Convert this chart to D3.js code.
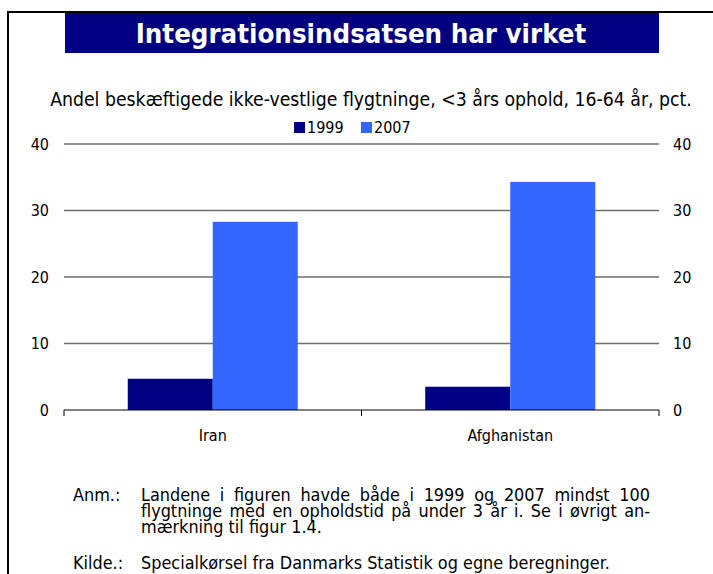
<!DOCTYPE html>
<html>
<head>
<meta charset="utf-8">
<title>Integrationsindsatsen har virket</title>
<script src="https://cdn.jsdelivr.net/npm/d3@7"></script>
<style>
  html, body { margin: 0; padding: 0; background: #fff; }
  svg { display: block; font-family: "DejaVu Sans", Verdana, sans-serif; }
  .cond { font-family: "DejaVu Sans Condensed", "DejaVu Sans", sans-serif; font-stretch: condensed; }
</style>
</head>
<body>
<script>
// data
const categories = ["Iran", "Afghanistan"];
const years = ["1999", "2007"];
const values1999 = [4.7, 3.5];
const values2007 = [28.3, 34.3];
const yTicks = [0, 10, 20, 30, 40];
const colors = ["#000080", "#3366ff"];

const titleText = "Integrationsindsatsen har virket";
const subtitleText = "Andel beskæftigede ikke-vestlige flygtninge, <3 års ophold, 16-64 år, pct.";
const noteLabel = "Anm.:";
const noteLines = [
  "Landene i figuren havde både i 1999 og 2007 mindst 100",
  "flygtninge med en opholdstid på under 3 år i. Se i øvrigt an-",
  "mærkning til figur 1.4."
];
const sourceLabel = "Kilde.:";
const sourceText = "Specialkørsel fra Danmarks Statistik og egne beregninger.";

const W = 713, H = 574;
const svg = d3.select("body").append("svg").attr("width", W).attr("height", H);

// scale a text's font-size so it takes the wanted width
function fitSize(sel, width) {
  sel.attr("font-size", 20);
  const w = sel.node().getComputedTextLength();
  const s = 20 * width / w;
  sel.attr("font-size", s);
  return s;
}

// frame
svg.append("path")
  .attr("d", "M8,574 V12 H713")
  .attr("fill", "none").attr("stroke", "#000").attr("stroke-width", 2);

// title bar
svg.append("rect").attr("x", 65).attr("y", 13).attr("width", 594).attr("height", 40)
  .attr("fill", "#000080");
const title = svg.append("text").attr("class", "cond").attr("x", 361).attr("y", 43)
  .attr("text-anchor", "middle").attr("fill", "#fff").attr("font-weight", "bold")
  .text(titleText);
fitSize(title, 451);

const sub = svg.append("text").attr("class", "cond").attr("x", 371).attr("y", 106)
  .attr("text-anchor", "middle").attr("fill", "#000").text(subtitleText);
fitSize(sub, 642);

// legend
const legendX = [294, 361];
years.forEach((yr, i) => {
  svg.append("rect").attr("x", legendX[i]).attr("y", 122).attr("width", 11).attr("height", 11)
    .attr("fill", colors[i]);
  svg.append("text").attr("class", "cond").attr("x", legendX[i] + 13).attr("y", 132.5).attr("font-size", 16)
    .text(yr);
});

// scales
const y = d3.scaleLinear().domain([0, 40]).range([410, 144]);
const x0 = d3.scaleBand().domain(categories).range([64, 659]).paddingInner(0).paddingOuter(0);
const x1 = d3.scaleBand().domain(years).range([0, x0.bandwidth()]).paddingInner(0).paddingOuter(0.75);

// gridlines
svg.append("g").selectAll("line").data(yTicks.filter(d => d > 0)).join("line")
  .attr("x1", 64).attr("x2", 659)
  .attr("y1", d => y(d)).attr("y2", d => y(d))
  .attr("stroke", "#6e6e6e").attr("stroke-width", 1.3);

// bars
const rows = categories.map((c, i) => ({ cat: c, vals: [values1999[i], values2007[i]] }));
svg.append("g").selectAll("g").data(rows).join("g")
  .attr("transform", d => `translate(${x0(d.cat)},0)`)
  .selectAll("rect").data(d => d.vals.map((v, i) => ({ year: years[i], v, i }))).join("rect")
  .attr("x", d => x1(d.year))
  .attr("width", x1.bandwidth())
  .attr("y", d => y(d.v))
  .attr("height", d => y(0) - y(d.v))
  .attr("fill", d => colors[d.i]);

// left and right axes (labels only)
const axL = svg.append("g").attr("transform", "translate(64,0)")
  .call(d3.axisLeft(y).tickValues(yTicks).tickSize(0).tickPadding(15));
const axR = svg.append("g").attr("transform", "translate(659,0)")
  .call(d3.axisRight(y).tickValues(yTicks).tickSize(0).tickPadding(14));
[axL, axR].forEach(a => {
  a.select(".domain").remove();
  a.selectAll("text").attr("class", "cond").attr("font-size", 16).attr("fill", "#000");
});

// category axis
const axB = svg.append("g").attr("transform", `translate(0,${y(0)})`)
  .call(d3.axisBottom(x0).tickSize(0).tickPadding(20));
axB.select(".domain").remove();
axB.selectAll("text").attr("class", "cond").attr("font-size", 16).attr("fill", "#000");
svg.append("line").attr("x1", 64).attr("x2", 659).attr("y1", y(0)).attr("y2", y(0))
  .attr("stroke", "#000").attr("stroke-width", 1);
svg.append("g").selectAll("line").data([64, x0("Afghanistan"), 659]).join("line")
  .attr("x1", d => d).attr("x2", d => d).attr("y1", y(0)).attr("y2", y(0) + 6)
  .attr("stroke", "#000").attr("stroke-width", 1);

// notes
const src = svg.append("text").attr("class", "cond").attr("x", 141).attr("y", 569).text(sourceText);
const fs = fitSize(src, 469);
svg.append("text").attr("class", "cond").attr("x", 73).attr("y", 569).attr("font-size", fs).text(sourceLabel);
svg.append("text").attr("class", "cond").attr("x", 73).attr("y", 501).attr("font-size", fs).text(noteLabel);

// justified lines (one text per word), last one left aligned
const noteY = [501, 517, 533];
const notes = svg.append("g").attr("class", "cond").attr("font-size", fs);
noteLines.forEach((line, li) => {
  if (li === noteLines.length - 1) {
    notes.append("text").attr("x", 141).attr("y", noteY[li]).text(line);
    return;
  }
  const words = line.split(" ");
  const texts = words.map(w => notes.append("text").attr("y", noteY[li]).text(w));
  const widths = texts.map(t => t.node().getComputedTextLength());
  const gap = (650 - 141 - d3.sum(widths)) / (words.length - 1);
  let cx = 141;
  texts.forEach((t, i) => {
    t.attr("x", cx);
    cx += widths[i] + gap;
  });
});
</script>
</body>
</html>
